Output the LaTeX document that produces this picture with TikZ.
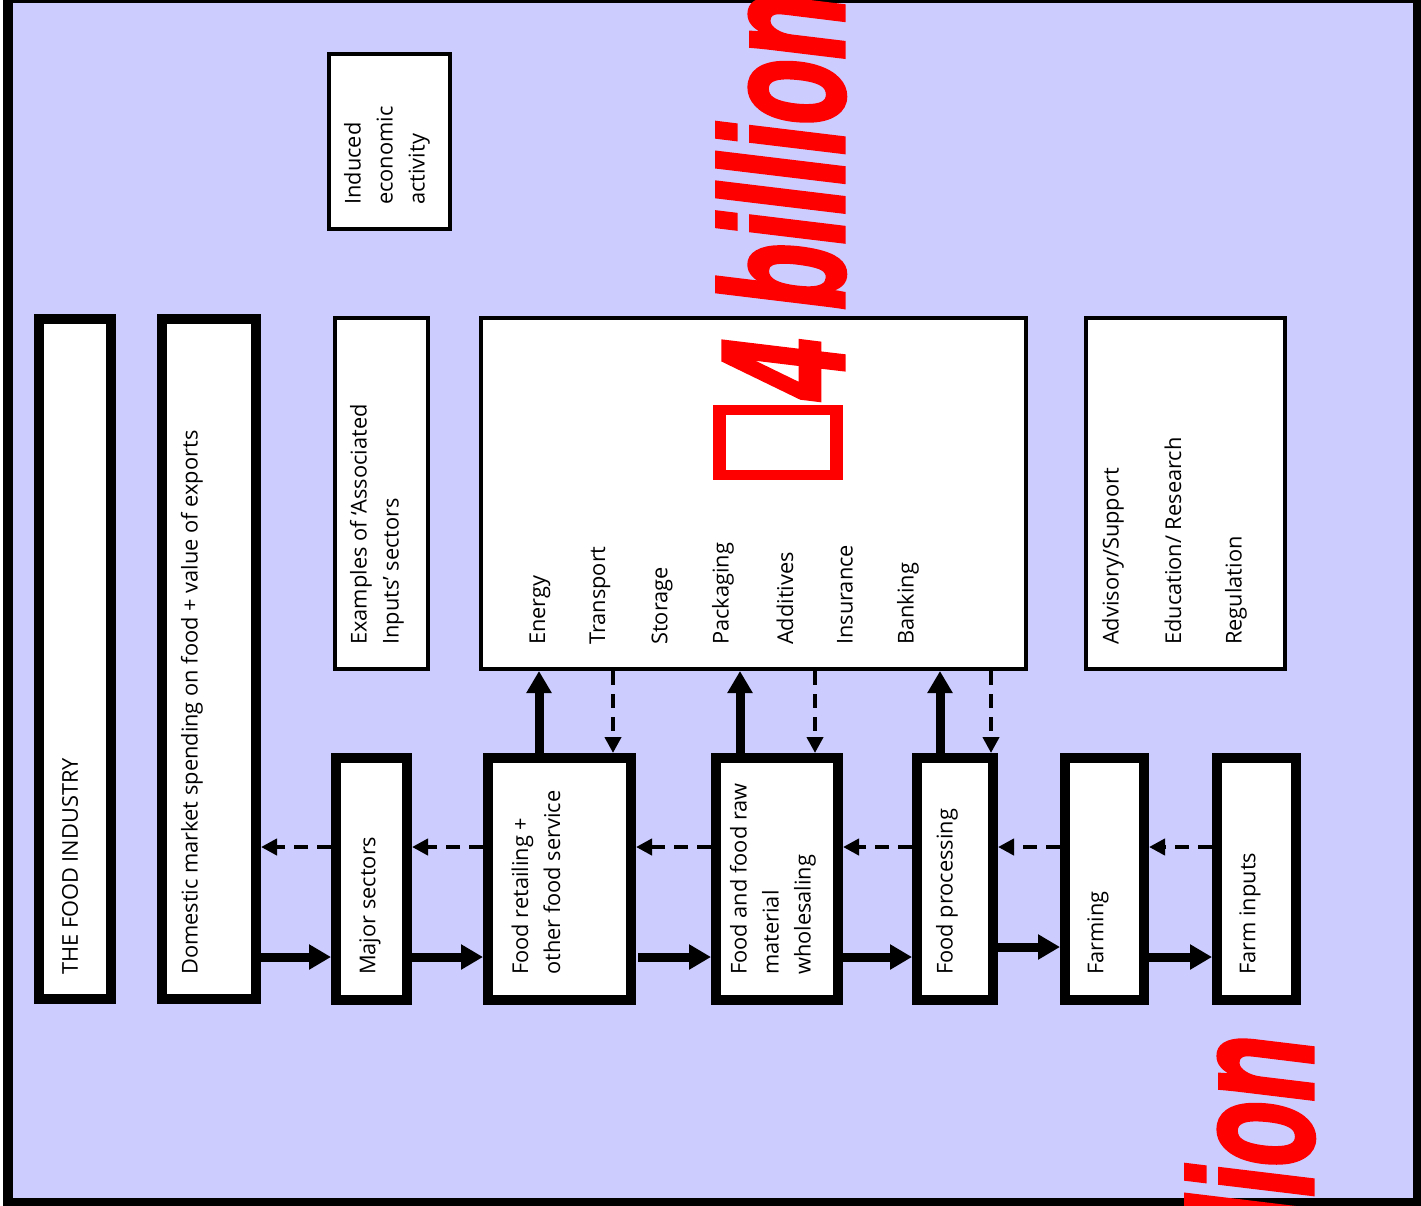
\documentclass[tikz,border=0pt]{standalone}
\usepackage{fontspec}
\usepackage{graphicx}
\setmainfont{Open Sans}
\newfontfamily\redfont{Liberation Sans Bold Italic}[FakeBold=3]
\usetikzlibrary{arrows.meta,calc}
\definecolor{bgblue}{RGB}{204,204,255}
\newcommand\lbfont{\fontsize{21.8}{32}\selectfont}
\newcommand\tofubox{\hbox{\vrule width 16pt height 130pt\vbox to 130pt{\hrule height 13pt width 89pt\vfil\hrule height 13pt width 89pt}\vrule width 16pt}}
\newcommand\redtext{\redfont\fontsize{173}{173}\selectfont\scalebox{0.62}[1]{\tofubox\kern10pt 4 billion}}
\tikzset{
  thickbox/.style={draw=black, fill=white, line width=10pt, inner sep=0, rectangle},
  thinbox/.style={draw=black, fill=white, line width=4pt, inner sep=0, rectangle},
  lbl/.style={rotate=90, anchor=west, inner sep=0, align=left, font=\lbfont, text=black},
  solidarrow/.style={line width=9pt, -{Triangle[length=22pt,width=24pt]}},
  dasharrow/.style={line width=4pt, dash pattern=on 14pt off 9pt, -{Triangle[length=16pt,width=16pt]}},
  redlbl/.style={rotate=90, anchor=base west, inner sep=0, text=red},
}
\begin{document}
\begin{tikzpicture}[x=1pt, y=-1pt]
\useasboundingbox (0,0) rectangle (1421,1205);
\clip (0,0) rectangle (1421,1205);
\draw[line width=10pt, fill=bgblue] (8,-2) rectangle (1418,1203);

% tall boxes
\node[thickbox, minimum width=72pt, minimum height=680pt] (ind) at (75,659) {};
\node[thickbox, minimum width=94pt, minimum height=680pt] (dom) at (209,659) {};
% bottom row
\node[thickbox, minimum width=71pt, minimum height=242pt] (maj) at (371.5,879) {};
\node[thickbox, minimum width=143pt, minimum height=242pt] (ret) at (559.5,879) {};
\node[thickbox, minimum width=122pt, minimum height=242pt] (whl) at (777,879) {};
\node[thickbox, minimum width=76pt, minimum height=242pt] (prc) at (955,879) {};
\node[thickbox, minimum width=79pt, minimum height=242pt] (frm) at (1104.5,879) {};
\node[thickbox, minimum width=79pt, minimum height=242pt] (inp) at (1256.5,879) {};
% thin boxes
\node[thinbox, minimum width=93pt, minimum height=351pt] (exm) at (381.5,493.5) {};
\node[thinbox, minimum width=545pt, minimum height=351pt] (big) at (753.5,493.5) {};
\node[thinbox, minimum width=199pt, minimum height=351pt] (adv) at (1185.5,493.5) {};
\node[thinbox, minimum width=121pt, minimum height=175pt] (indc) at (389.5,141.5) {};

% labels
\node[lbl] (tind) at (70,975) {THE FOOD INDUSTRY};
\node[lbl] (tdom) at (192,975) {Domestic market spending on food + value of exports};
\node[lbl] (tmaj) at (370,975) {Major sectors};
\node[lbl] (tret) at (536,975) {Food retailing +\\other food service};
\node[lbl] (twhl) at (773,975) {Food and food raw\\material\\wholesaling};
\node[lbl] (tprc) at (947,975) {Food processing};
\node[lbl] (tfrm) at (1098,975) {Farming};
\node[lbl] (tinp) at (1250,975) {Farm inputs};
\node[lbl] (texm) at (377,645) {Examples of ‘Associated\\Inputs’ sectors};
\node[lbl] (tindc) at (387,205) {Induced\\economic\\activity};
\node[lbl] (e1) at (540,645) {Energy};
\node[lbl] (e2) at (600,645) {Transport};
\node[lbl] (e3) at (662,645) {Storage};
\node[lbl] (e4) at (723,645) {Packaging};
\node[lbl] (e5) at (785,645) {Additives};
\node[lbl] (e6) at (845,645) {Insurance};
\node[lbl] (e7) at (908,645) {Banking};
\node[lbl] (a1) at (1113,645) {Advisory/Support};
\node[lbl] (a2) at (1173,645) {Education/ Research};
\node[lbl] (a3) at (1236,645) {Regulation};

% solid horizontal arrows
\draw[solidarrow] ($(dom.east |- maj.west)+(0,78)$) -- ($(maj.west)+(0,78)$);
\draw[solidarrow] ($(maj.east)+(0,78)$) -- ($(ret.west)+(0,78)$);
\draw[solidarrow] ($(ret.east)+(2,78)$) -- ($(whl.west)+(0,78)$);
\draw[solidarrow] ($(whl.east)+(0,78)$) -- ($(prc.west)+(0,78)$);
\draw[solidarrow] ($(prc.east)+(0,68)$) -- ($(frm.west)+(0,68)$);
\draw[solidarrow] ($(frm.east)+(0,78)$) -- ($(inp.west)+(0,78)$);
% dashed horizontal arrows
\draw[dasharrow] ($(maj.west)+(0,-32)$) -- ($(dom.east |- maj.west)+(0,-32)$);
\draw[dasharrow] ($(ret.west)+(0,-32)$) -- ($(maj.east)+(0,-32)$);
\draw[dasharrow] ($(whl.west)+(0,-32)$) -- ($(ret.east)+(0,-32)$);
\draw[dasharrow] ($(prc.west)+(0,-32)$) -- ($(whl.east)+(0,-32)$);
\draw[dasharrow] ($(frm.west)+(0,-32)$) -- ($(prc.east)+(0,-32)$);
\draw[dasharrow] ($(inp.west)+(0,-32)$) -- ($(frm.east)+(0,-32)$);
% vertical arrows
\draw[solidarrow] (ret.north -| 539,0) -- (big.south -| 539,0);
\draw[solidarrow] (whl.north -| 740,0) -- (big.south -| 740,0);
\draw[solidarrow] (prc.north -| 940,0) -- (big.south -| 940,0);
\draw[dasharrow] (big.south -| 613,0) -- (ret.north -| 613,0);
\draw[dasharrow] (big.south -| 815,0) -- (whl.north -| 815,0);
\draw[dasharrow] (big.south -| 991,0) -- (prc.north -| 991,0);

% red overlay text
\node[redlbl] (red1) at (843,480) {\redtext};
\node[redlbl] (red2) at (1312,1522) {\redtext};
\end{tikzpicture}
\end{document}
